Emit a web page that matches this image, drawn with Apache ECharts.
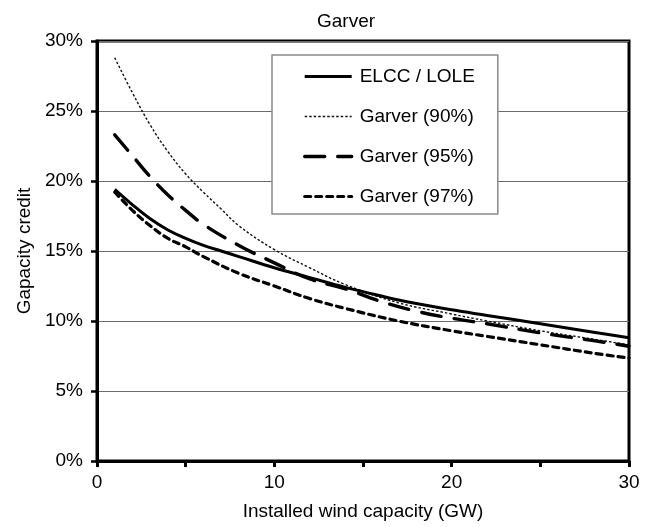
<!DOCTYPE html>
<html>
<head>
<meta charset="utf-8">
<script src="https://cdn.jsdelivr.net/npm/echarts@6/dist/echarts.min.js"></script>
<style>
  html, body { margin: 0; padding: 0; background: #fff; }
  #chart { width: 645px; height: 527px; }
</style>
</head>
<body>
<div id="chart"></div>
<script>
// Capacity credit (%) against installed wind capacity (GW)
const elccX  = [1, 2, 3, 4, 5, 6, 7, 8, 10, 12, 14, 15, 17, 20, 22, 25, 28, 30];
const elccY  = [19.4, 18.3, 17.3, 16.5, 15.9, 15.4, 15.0, 14.6, 13.8, 13.1, 12.4, 12.1, 11.5, 10.8, 10.4, 9.8, 9.2, 8.8];

const g90X = [1, 2, 3, 4, 5, 6, 7, 8, 10, 12, 14, 17, 20, 22, 25, 28, 30];
const g90Y = [28.8, 26.3, 24.0, 22.1, 20.5, 19.2, 18.0, 16.8, 15.1, 13.8, 12.6, 11.3, 10.5, 10.0, 9.3, 8.7, 8.3];

const g95X = [1, 2, 3, 4, 5, 6, 8, 10, 12, 14, 16, 18, 20, 22, 25, 28, 30];
const g95Y = [23.3, 21.8, 20.3, 19.0, 17.9, 16.9, 15.4, 14.15, 13.0, 12.3, 11.4, 10.7, 10.2, 9.8, 9.15, 8.6, 8.2];

const g97X = [1, 2, 3, 4, 5, 6, 8, 10, 12, 14, 17, 20, 22, 25, 28, 30];
const g97Y = [19.2, 17.9, 16.8, 15.9, 15.3, 14.6, 13.4, 12.5, 11.6, 10.9, 10.0, 9.3, 8.9, 8.3, 7.7, 7.35];

const seriesNames = ['ELCC / LOLE', 'Garver (90%)', 'Garver (95%)', 'Garver (97%)'];
const xLabelled = [0, 10, 20, 30];
const yTicks = [0, 5, 10, 15, 20, 25, 30];

const pairs = (xs, ys) => xs.map((x, i) => [x, ys[i]]);
const FONT = '"Liberation Sans", Arial, sans-serif';
const FS = 19;

// line look of each series, shared by the plot and the legend samples
const lineLooks = [
  { color: '#000', width: 3, type: 'solid', cap: 'butt' },
  { color: '#111', width: 1.4, type: [2.5, 2], cap: 'butt' },
  { color: '#000', width: 3.4, type: [20, 13], cap: 'round' },
  { color: '#000', width: 3.2, type: [6, 5], cap: 'round' }
];

const chart = echarts.init(document.getElementById('chart'), null, { renderer: 'canvas' });

chart.setOption({
  animation: false,
  backgroundColor: '#fff',
  textStyle: { fontFamily: FONT, color: '#000' },
  title: {
    text: 'Garver',
    left: 312,
    top: 7,
    textStyle: { fontFamily: FONT, fontSize: FS, fontWeight: 'normal', color: '#000' }
  },
  grid: {
    left: 97, right: 16, top: 41, bottom: 66,
    show: true,
    borderColor: '#000',
    borderWidth: 3
  },
  legend: {
    orient: 'vertical',
    left: 272,
    top: 55,
    padding: [12, 23, 8, 31],
    itemGap: 21,
    itemWidth: 47,
    itemHeight: 14,
    backgroundColor: '#fff',
    borderColor: '#8a8a8a',
    borderWidth: 1.5,
    borderRadius: 0,
    // keep only the line sample in each legend entry (no marker dot)
    itemStyle: { opacity: 0 },
    textStyle: { fontFamily: FONT, fontSize: FS, color: '#000', padding: [0, 0, 0, 3] },
    data: seriesNames.map((n, i) => ({
      name: n,
      lineStyle: {
        color: lineLooks[i].color,
        width: lineLooks[i].width,
        type: lineLooks[i].type,
        cap: lineLooks[i].cap
      }
    }))
  },
  xAxis: {
    type: 'value',
    min: 0, max: 30, interval: 5,
    name: 'Installed wind capacity (GW)',
    nameLocation: 'middle',
    nameGap: 41,
    nameTextStyle: { fontFamily: FONT, fontSize: FS, color: '#000' },
    axisLine: { show: true, onZero: false, lineStyle: { color: '#000', width: 3 } },
    axisTick: { show: true, length: 6, lineStyle: { color: '#000', width: 3 } },
    axisLabel: {
      fontFamily: FONT, fontSize: FS, color: '#000', margin: 12,
      formatter: v => (xLabelled.includes(v) ? String(v) : '')
    },
    splitLine: { show: false }
  },
  yAxis: {
    type: 'value',
    min: yTicks[0], max: yTicks[yTicks.length - 1], interval: 5,
    name: 'Gapacity credit',
    nameLocation: 'middle',
    nameGap: 63,
    nameTextStyle: { fontFamily: FONT, fontSize: FS, color: '#000' },
    axisLine: { show: true, lineStyle: { color: '#000', width: 3 } },
    axisTick: { show: true, length: 6, lineStyle: { color: '#000', width: 2.5 } },
    axisLabel: { fontFamily: FONT, fontSize: FS, color: '#000', margin: 14, formatter: '{value}%' },
    splitLine: { show: true, lineStyle: { color: '#6b6b6b', width: 1.2 } }
  },
  series: [
    [elccX, elccY, 4],
    [g90X, g90Y, 3],
    [g95X, g95Y, 3],
    [g97X, g97Y, 3]
  ].map(([xs, ys, z], i) => ({
    name: seriesNames[i],
    type: 'line',
    smooth: 0.4,
    showSymbol: false,
    symbol: 'none',
    data: pairs(xs, ys),
    lineStyle: Object.assign({}, lineLooks[i]),
    itemStyle: { color: lineLooks[i].color },
    z: z
  }))
});
</script>
</body>
</html>
